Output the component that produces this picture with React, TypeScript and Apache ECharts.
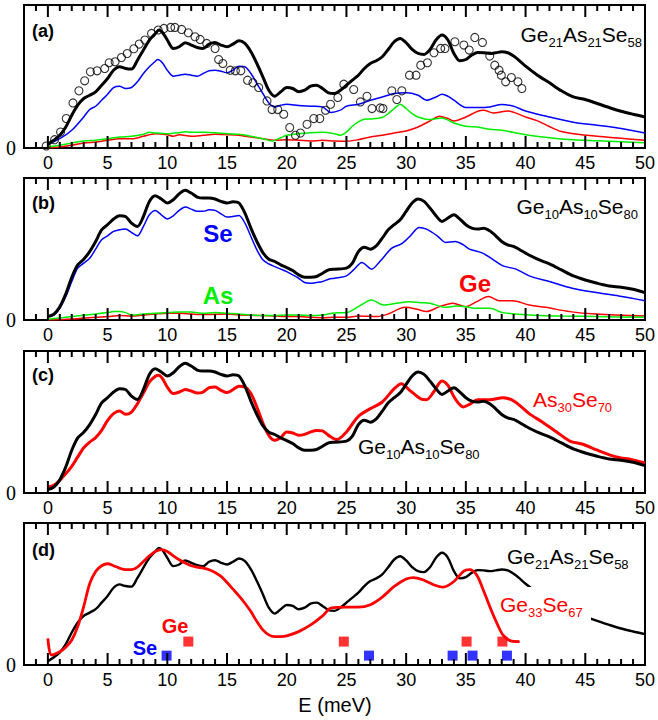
import React, { useEffect, useRef } from 'react';
import * as echarts from 'echarts';

// ---------- ticks ----------
const majorTicks = [0, 5, 10, 15, 20, 25, 30, 35, 40, 45, 50];
const minorTicks = [-1,1,2,3,4,6,7,8,9,11,12,13,14,16,17,18,19,21,22,23,24,26,27,28,29,31,32,33,34,36,37,38,39,41,42,43,44,46,47,48,49];
const yTickLabels = [0];
const yBottom = 0;
const yTop = 100;

// ---------- panel (a): Ge21As21Se58 ----------
const aTotal = [[0,2.6],[0.5,5.4],[1,8.9],[1.5,14.7],[2,22.9],[2.5,29.9],[3,34.6],[3.5,36.9],[4,39.3],[4.5,43.9],[5,48.6],[5.5,54.4],[6,56.8],[6.5,55.6],[7,55.2],[7.5,61.4],[8,68.5],[8.5,75.5],[9,80.1],[9.3,82.5],[9.6,80.8],[10,75.5],[10.5,69.6],[11,70.8],[11.5,73.6],[12,72.0],[12.5,70.3],[13,69.6],[13.5,72.7],[14,73.8],[14.5,72.0],[15,70.8],[15.5,72.7],[16,75.0],[16.5,73.1],[17,67.3],[17.5,59.1],[18,49.8],[18.5,40.4],[19,36.2],[19.5,39.3],[20,42.3],[20.5,41.6],[21,39.3],[21.5,40.4],[22,43.2],[22.5,43.9],[23,41.6],[23.5,38.6],[24,38.1],[24.5,40.4],[25,43.9],[25.5,47.4],[26,50.9],[26.5,55.6],[27,59.1],[27.5,61.0],[28,63.8],[28.5,68.9],[29,74.3],[29.5,76.6],[30,73.6],[30.5,68.9],[31,66.1],[31.5,65.4],[32,68.9],[32.5,75.5],[33,79.0],[33.5,75.5],[34,66.1],[34.5,61.0],[35,61.9],[35.5,65.0],[36,66.8],[36.5,66.6],[37,66.1],[37.5,66.6],[38,67.3],[38.5,66.6],[39,64.3],[39.5,61.0],[40,57.2],[41,50.9],[42,45.6],[43,40.0],[44,35.7],[45,33.9],[46,31.1],[47,28.3],[48,25.7],[49,23.6],[50,21.7]];
const aSe = [[0,2.6],[1,6.5],[2,12.4],[3,21.7],[3.5,26.9],[4,29.2],[4.5,33.4],[5,37.6],[5.5,42.3],[6,43.2],[6.5,41.6],[7,42.3],[7.5,46.3],[8,52.1],[8.5,56.8],[9,60.7],[9.2,61.9],[9.6,59.5],[10,54.4],[10.5,50.2],[11,50.9],[11.5,51.6],[12,50.9],[12.5,50.2],[13,52.1],[13.5,54.0],[14,54.4],[14.5,53.7],[15,52.6],[15.5,54.4],[16,57.2],[16.5,56.8],[17,52.1],[17.5,45.1],[18,38.1],[18.5,31.5],[19,28.7],[19.5,29.9],[20,30.6],[21,29.7],[22,29.2],[23,28.7],[23.7,24.8],[24.5,26.5],[25,29.2],[26,30.6],[27,33.4],[28,35.7],[29,38.1],[30,38.6],[31,36.9],[31.7,33.4],[32.5,35.7],[33,37.6],[33.5,36.2],[34,33.4],[35,28.3],[36,28.3],[37,28.7],[38,30.4],[39,29.2],[40,25.9],[42,21.7],[44,18.0],[46,15.9],[48,13.6],[50,10.5]];
const aAs = [[0,0.7],[1,1.9],[2,3.5],[3,4.9],[4,5.4],[5,6.5],[6,7.7],[7,8.2],[8,9.6],[8.5,11.0],[9,10.5],[10,10.0],[11,10.7],[11.5,11.4],[12,11.0],[13,11.0],[14,10.7],[15,10.0],[16,9.6],[17,8.2],[18,6.5],[18.8,4.9],[19.5,7.2],[20,8.9],[21,10.0],[22,10.7],[23,11.0],[24,10.0],[24.5,8.9],[25,11.2],[25.5,15.2],[26,18.2],[26.5,20.1],[27,20.3],[28,21.3],[28.5,24.1],[29,27.6],[29.5,30.6],[30,27.6],[30.5,24.1],[31,21.7],[32,19.9],[33,21.0],[34,17.5],[35,15.2],[36,14.7],[37,13.1],[38,12.4],[40,9.3],[42,7.2],[44,5.8],[46,5.1],[48,4.4],[50,3.7]];
const aGe = [[0,0.2],[1,0.7],[2,1.9],[3,3.5],[4,4.2],[5,5.4],[6,6.5],[7,6.5],[8,8.2],[9,10.0],[10,9.3],[10.5,8.2],[11,9.3],[12,8.2],[13,8.9],[14,9.6],[15,9.3],[16,8.9],[17,7.7],[18,6.5],[19,5.4],[20,5.8],[21,5.4],[22,4.9],[23,5.4],[24,4.9],[25,4.7],[26,5.8],[27,7.7],[28,8.9],[29,10.5],[30,11.9],[31,14.7],[32,18.9],[32.8,22.2],[33.5,20.6],[34,18.9],[35,21.7],[36,25.7],[36.5,26.4],[37.3,24.5],[38.5,25.9],[40,21.7],[41,19.0],[42,15.0],[43,11.5],[44,10.0],[46,8.2],[48,6.8],[50,5.4]];
const aExp = [[-0.14,1.4],[0.56,5.8],[1.06,11.2],[1.54,20.6],[2.1,31.5],[2.6,40.0],[3.08,47.0],[3.56,53.3],[4.12,54.0],[4.76,55.6],[5.13,59.6],[5.63,60.3],[6.16,63.3],[6.64,66.1],[7.2,69.4],[7.65,72.7],[8.12,75.5],[8.68,80.1],[9.24,82.5],[9.72,83.6],[10.28,84.3],[10.64,84.3],[11.2,82.9],[11.76,80.6],[12.32,77.8],[12.75,75.9],[13.3,73.1],[14.0,69.6],[14.3,61.9],[14.65,59.1],[15.27,54.4],[15.7,54.0],[16.16,54.0],[16.72,47.4],[17.17,45.6],[17.65,42.3],[18.35,32.9],[18.77,26.9],[19.25,26.9],[19.75,23.6],[20.25,14.3],[20.73,8.9],[21.15,10.5],[21.7,16.6],[22.27,20.6],[22.77,20.6],[23.25,26.4],[23.67,30.6],[24.28,35.3],[24.78,44.6],[25.61,40.9],[26.17,32.2],[26.72,36.2],[27.14,27.6],[27.83,28.0],[28.06,27.6],[28.8,40.0],[29.22,33.9],[29.64,40.0],[30.28,50.9],[30.83,50.9],[31.22,57.9],[31.78,59.6],[32.33,66.6],[32.89,69.6],[33.25,69.6],[34.08,74.3],[34.83,72.0],[35.28,68.5],[35.75,77.3],[36.39,73.8],[37.0,64.3],[37.42,57.9],[37.78,54.4],[37.97,50.9],[38.33,46.3],[38.81,49.3],[39.36,46.3],[39.69,41.6]];

// ---------- panel (b): Ge10As10Se80 ----------
const bTotal = [[0,2.4],[0.5,4.2],[1,9.4],[1.5,18.4],[2,30.1],[2.5,38.8],[3,42.8],[3.5,48.2],[4,55.3],[4.5,63.5],[5,67.1],[5.5,71.1],[6,73.4],[6.5,72.9],[7,68.2],[7.5,65.9],[8,72.9],[8.5,83.5],[9,87.5],[9.5,85.2],[10,82.4],[10.5,84.7],[11,88.9],[11.5,91.3],[12,89.4],[12.5,86.6],[13,85.9],[13.5,85.9],[14,85.2],[14.5,83.5],[15,82.4],[15.5,83.3],[16,82.4],[16.5,75.3],[17,64.7],[17.5,55.3],[18,47.5],[18.5,42.8],[19,41.2],[19.5,38.8],[20,36.9],[20.5,34.8],[21,31.8],[21.5,30.1],[22,30.1],[22.5,30.6],[23,32.9],[23.5,35.3],[24,35.8],[25,36.5],[25.5,40.0],[26,48.2],[26.5,51.3],[27,49.9],[27.5,52.2],[28,57.6],[28.5,63.5],[29,67.1],[29.5,70.6],[30,76.5],[30.5,82.4],[31,85.2],[31.5,83.5],[32,78.8],[32.5,73.4],[33,69.4],[33.5,71.8],[34,74.1],[34.5,71.1],[35,67.1],[35.5,64.7],[36,64.0],[36.5,64.7],[37,62.8],[37.5,59.3],[38,55.3],[38.5,52.9],[39,51.8],[40,47.1],[41,42.8],[42,39.5],[43,35.3],[44,31.1],[45,28.2],[46,25.9],[47,24.0],[48,23.1],[49,21.6],[50,19.3]];
const bSe = [[0,2.4],[0.5,3.5],[1,8.2],[1.5,16.5],[2,27.1],[2.5,36.5],[3,40.0],[3.5,43.5],[4,49.9],[4.5,56.5],[5,59.3],[5.5,62.4],[6,63.5],[6.5,64.0],[7,61.6],[7.5,59.3],[8,65.9],[8.5,74.1],[9,77.2],[9.5,74.1],[10,71.1],[10.5,73.4],[11,77.2],[11.5,79.5],[12,78.1],[12.5,76.5],[13,76.5],[13.5,77.6],[14,77.2],[14.5,74.8],[15,72.5],[15.5,72.9],[16,73.6],[16.5,68.2],[17,58.8],[17.5,49.4],[18,42.4],[18.5,39.5],[19,37.6],[19.5,35.8],[20,34.1],[20.5,31.8],[21,29.4],[21.5,26.4],[22,25.9],[22.5,26.4],[23,27.1],[23.5,28.7],[24,29.4],[25,31.1],[25.6,35.3],[26.3,40.5],[27.1,35.8],[27.8,41.2],[28.8,50.6],[29.6,53.6],[30.3,58.8],[31.1,65.2],[31.7,64.0],[32.6,59.3],[33.3,54.6],[34.1,55.3],[34.8,52.9],[35.3,49.9],[36.4,47.1],[37.3,42.4],[38.1,38.1],[39.2,35.8],[40.3,31.1],[42,27.1],[43.9,22.4],[45.9,19.3],[47.8,16.9],[50,13.6]];
const bAs = [[0,0.5],[2,2.4],[4,4.2],[5,5.2],[5.5,5.9],[6,5.9],[6.5,5.2],[7,3.5],[8,4.2],[9,4.7],[10,5.2],[11,5.6],[12,5.6],[13,4.7],[14,5.2],[15,4.7],[16,4.2],[17,3.5],[18,3.1],[19,3.1],[20,3.5],[21,3.5],[22,3.1],[23,3.5],[24,4.9],[25,5.2],[26,9.4],[27.1,14.1],[28.1,10.6],[29.2,11.8],[30.3,12.9],[31.2,12.2],[32,11.8],[33.3,8.9],[34.2,9.9],[35,9.4],[35.9,8.2],[37,8.2],[38.1,5.2],[40.3,3.5],[43.1,2.8],[45.9,2.4],[50,1.9]];
const bGe = [[0,0],[2,0.7],[4,1.9],[5,2.4],[6,3.1],[7,2.8],[8,3.5],[9,4.2],[10,4.7],[11,4.7],[12,4.2],[13,3.8],[14,4.0],[15,4.2],[16,3.5],[17,3.3],[18,3.1],[19,2.8],[20,2.4],[21,2.4],[22,1.9],[23,1.6],[24,1.9],[25,1.9],[26,2.8],[27.6,2.4],[28.5,4.2],[29.9,8.9],[30.9,7.5],[31.7,5.9],[32.8,9.4],[33.9,11.8],[35,9.4],[35.9,12.9],[36.9,16.5],[37.8,13.6],[38.9,13.6],[40.3,10.6],[41.7,8.9],[43.7,5.9],[45.9,4.2],[50,2.8]];

// ---------- panel (c): As30Se70 vs Ge10As10Se80 ----------
const cAs30Se70 = [[0,4.2],[0.5,5.4],[1,8.9],[1.5,13.6],[2,18.8],[2.5,25.4],[3,31.9],[3.5,35.9],[4,39.0],[4.5,44.1],[5,51.2],[5.5,55.9],[6,57.7],[6.5,55.4],[7,57.0],[7.5,62.9],[8,70.4],[8.5,78.2],[9,82.2],[9.3,82.9],[9.6,80.5],[10,74.6],[10.5,70.0],[11,71.1],[11.5,72.8],[12,71.8],[12.5,70.4],[13,71.1],[13.5,74.2],[14,74.6],[14.5,72.3],[15,70.7],[15.5,72.8],[16,75.1],[16.5,74.6],[17,70.0],[17.5,60.6],[18,49.3],[18.5,40.6],[19,37.1],[19.5,39.0],[20,43.0],[20.5,42.3],[21,40.6],[21.5,41.3],[22,43.0],[22.5,44.1],[23,43.7],[23.5,40.6],[24.2,37.6],[25,43.0],[26,54.0],[27,59.4],[28,64.1],[29,73.5],[29.6,77.0],[30.3,72.3],[31.2,66.4],[31.7,65.7],[32.3,71.1],[33,78.9],[33.5,75.8],[34.1,66.4],[34.8,60.6],[35.3,62.4],[36,65.7],[37,65.7],[38.1,67.1],[38.8,65.7],[39.5,61.7],[40.3,55.9],[41.4,50.0],[42.6,43.0],[43.7,36.6],[44.8,34.3],[45.9,30.5],[47.6,25.4],[48.9,23.5],[50,21.1]];

// ---------- panel (d): Ge33Se67 vs Ge21As21Se58 ----------
const dGe33Se67 = [[0,18.8],[0.3,7.1],[1,9.4],[1.5,12.5],[2,17.6],[2.5,27.1],[3,41.2],[3.5,57.2],[4,65.9],[4.5,69.9],[5,71.3],[5.5,69.9],[6,68.2],[6.5,67.1],[7,67.1],[7.5,68.9],[8,72.9],[8.5,76.9],[9,80.0],[9.5,81.2],[10,80.0],[10.5,76.9],[11,74.1],[11.5,71.8],[12,69.9],[12.5,68.9],[13,68.2],[13.5,67.1],[14,65.2],[14.5,62.4],[15,58.1],[15.5,53.4],[16,48.7],[16.5,43.5],[17,37.6],[17.5,30.6],[18,24.7],[18.5,21.2],[19,20.0],[19.5,20.0],[20,20.5],[21,23.5],[22,28.2],[23,34.6],[23.7,40.0],[25,40.7],[26,40.7],[27,42.4],[28,47.8],[29,55.3],[30,60.5],[30.6,61.6],[31.4,60.0],[32.3,56.5],[33.1,54.8],[34,58.8],[34.8,65.9],[35.3,67.1],[35.9,63.5],[36.4,54.1],[37,41.2],[37.6,29.4],[38.1,21.2],[38.7,17.2],[39.5,16.5]];
const dGeModes = [[11.76,16.5],[24.78,16.5],[35.06,16.5],[38.06,16.5]];
const dSeModes = [[9.94,6.6],[26.89,6.6],[33.89,6.6],[35.56,6.6],[38.44,6.6]];

// ---------- layout ----------
const panelTops = [5, 178, 351, 523];
const panelHeights = [143, 142, 142, 142];
const FONT = '"Liberation Sans", Arial, sans-serif';
const BLACK = '#000000';
const BLUE = '#0000ff';
const GREEN = '#00ee00';
const RED = '#ff0000';

function formula(parts: string[][], color: string) {
  const text = parts.map(([m, s]) => `{m|${m}}{s|${s}}`).join('');
  return {
    text,
    fill: color,
    rich: {
      m: { fontSize: 21, fontFamily: FONT, lineHeight: 22, verticalAlign: 'top', fill: color },
      s: { fontSize: 13, fontFamily: FONT, lineHeight: 14, padding: [12, 0, 0, 0], verticalAlign: 'top', fill: color },
    },
  };
}

function lineSeries(panel: number, data: number[][], color: string, width: number, z = 2) {
  return {
    type: 'line',
    xAxisIndex: panel,
    yAxisIndex: panel,
    data,
    showSymbol: false,
    smooth: 0.3,
    lineStyle: { color, width },
    itemStyle: { color },
    silent: true,
    z,
  };
}

function baseGraphic() {
  const bold = (size: number) => `bold ${size}px ${FONT}`;
  const txt = (x: number, y: number, text: string, font: string, fill: string, align = 'left') => ({
    type: 'text',
    x,
    y,
    z: 100,
    silent: true,
    style: { text, font, fill, align, verticalAlign: 'middle' },
  });
  const form = (x: number, y: number, parts: string[][], color: string, align = 'left') => ({
    type: 'text',
    x,
    y: y + 2,
    z: 100,
    silent: true,
    style: { ...formula(parts, color), align, verticalAlign: 'middle' },
  });
  return [
    txt(32, 31, '(a)', bold(18), BLACK),
    txt(32, 203, '(b)', bold(18), BLACK),
    txt(32, 375, '(c)', bold(18), BLACK),
    txt(32, 550, '(d)', bold(18), BLACK),
    form(642, 33, [['Ge', '21'], ['As', '21'], ['Se', '58']], BLACK, 'right'),
    form(638, 205, [['Ge', '10'], ['As', '10'], ['Se', '80']], BLACK, 'right'),
    txt(218, 233, 'Se', bold(24), BLUE, 'center'),
    txt(218, 295, 'As', bold(24), GREEN, 'center'),
    txt(475, 283, 'Ge', bold(24), RED, 'center'),
    form(533, 398, [['As', '30'], ['Se', '70']], RED),
    form(358, 445, [['Ge', '10'], ['As', '10'], ['Se', '80']], BLACK),
    form(507, 555, [['Ge', '21'], ['As', '21'], ['Se', '58']], BLACK),
    { type: 'rect', z: 90, silent: true, shape: { x: 503, y: 587, width: 88, height: 36 }, style: { fill: '#ffffff' } },
    form(500, 603, [['Ge', '33'], ['Se', '67']], RED),
    txt(175, 626, 'Ge', bold(20), RED, 'center'),
    txt(145, 648, 'Se', bold(20), BLUE, 'center'),
    txt(335, 705, 'E (meV)', `20px ${FONT}`, BLACK, 'center'),
  ];
}

function buildOption() {
  const grids: any[] = [];
  const xAxes: any[] = [];
  const yAxes: any[] = [];
  for (let i = 0; i < 4; i++) {
    grids.push({
      left: 24,
      right: 12,
      top: panelTops[i],
      height: panelHeights[i],
      show: true,
      borderColor: BLACK,
      borderWidth: 2,
      backgroundColor: 'transparent',
    });
    xAxes.push({
      gridIndex: i,
      type: 'value',
      min: -2,
      max: 50,
      position: 'bottom',
      axisLine: { show: false, onZero: false },
      axisTick: { show: false },
      splitLine: { show: false },
      axisLabel: { show: true, customValues: majorTicks, fontSize: 18, fontFamily: FONT, color: BLACK, margin: 6 },
    });
    yAxes.push({
      gridIndex: i,
      type: 'value',
      min: 0,
      max: 100,
      axisLine: { show: false, onZero: false },
      axisTick: { show: false },
      splitLine: { show: false },
      axisLabel: {
        show: true,
        customValues: yTickLabels,
        formatter: (v: number) => String(v),
        fontSize: 20,
        fontFamily: '"Liberation Serif", serif',
        color: BLACK,
        margin: 8,
      },
    });
  }

  const series: any[] = [
    // (a)
    lineSeries(0, aGe, RED, 1.5),
    lineSeries(0, aAs, GREEN, 1.5),
    lineSeries(0, aSe, BLUE, 1.5),
    lineSeries(0, aTotal, BLACK, 3, 3),
    {
      type: 'scatter',
      xAxisIndex: 0,
      yAxisIndex: 0,
      data: aExp,
      symbol: 'circle',
      symbolSize: 8,
      itemStyle: { color: 'rgba(0,0,0,0)', borderColor: BLACK, borderWidth: 1.1 },
      silent: true,
      z: 4,
    },
    // (b)
    lineSeries(1, bGe, RED, 1.5),
    lineSeries(1, bAs, GREEN, 1.5),
    lineSeries(1, bSe, BLUE, 1.5),
    lineSeries(1, bTotal, BLACK, 3, 3),
    // (c)
    lineSeries(2, cAs30Se70, RED, 3),
    lineSeries(2, bTotal, BLACK, 3, 3),
    // (d)
    lineSeries(3, aTotal, BLACK, 2.4),
    lineSeries(3, dGe33Se67, RED, 2.8, 3),
    {
      type: 'scatter',
      xAxisIndex: 3,
      yAxisIndex: 3,
      data: dGeModes,
      symbol: 'rect',
      symbolSize: 10,
      itemStyle: { color: RED },
      silent: true,
      z: 4,
    },
    {
      type: 'scatter',
      xAxisIndex: 3,
      yAxisIndex: 3,
      data: dSeModes,
      symbol: 'rect',
      symbolSize: 10,
      itemStyle: { color: BLUE },
      silent: true,
      z: 4,
    },
  ];

  return {
    animation: false,
    backgroundColor: '#ffffff',
    grid: grids,
    xAxis: xAxes,
    yAxis: yAxes,
    series,
    graphic: baseGraphic(),
  };
}

// tick marks placed through the axes' own scale (convertToPixel), drawn as thin rects
function tickGraphics(chart: any) {
  const out: any[] = [];
  const W = 2;
  for (let i = 0; i < 4; i++) {
    const finder = { xAxisIndex: i, yAxisIndex: i };
    const addTick = (v: number, len: number) => {
      const pb = chart.convertToPixel(finder, [v, yBottom]);
      const pt = chart.convertToPixel(finder, [v, yTop]);
      if (!pb || !pt) return;
      out.push({ type: 'rect', z: 50, silent: true, shape: { x: pb[0] - W / 2, y: pb[1] - len, width: W, height: len }, style: { fill: BLACK } });
      out.push({ type: 'rect', z: 50, silent: true, shape: { x: pt[0] - W / 2, y: pt[1], width: W, height: len }, style: { fill: BLACK } });
    };
    majorTicks.forEach((v) => addTick(v, 12));
    minorTicks.forEach((v) => addTick(v, 6));
  }
  return out;
}

export default function App() {
  const ref = useRef<HTMLDivElement>(null);
  useEffect(() => {
    document.body.style.margin = '0';
    const chart = echarts.init(ref.current!, null, { renderer: 'svg' });
    chart.setOption(buildOption() as any);
    chart.setOption({ graphic: [...baseGraphic(), ...tickGraphics(chart)] } as any);
    return () => chart.dispose();
  }, []);
  return <div ref={ref} style={{ width: 658, height: 720 }} />;
}
